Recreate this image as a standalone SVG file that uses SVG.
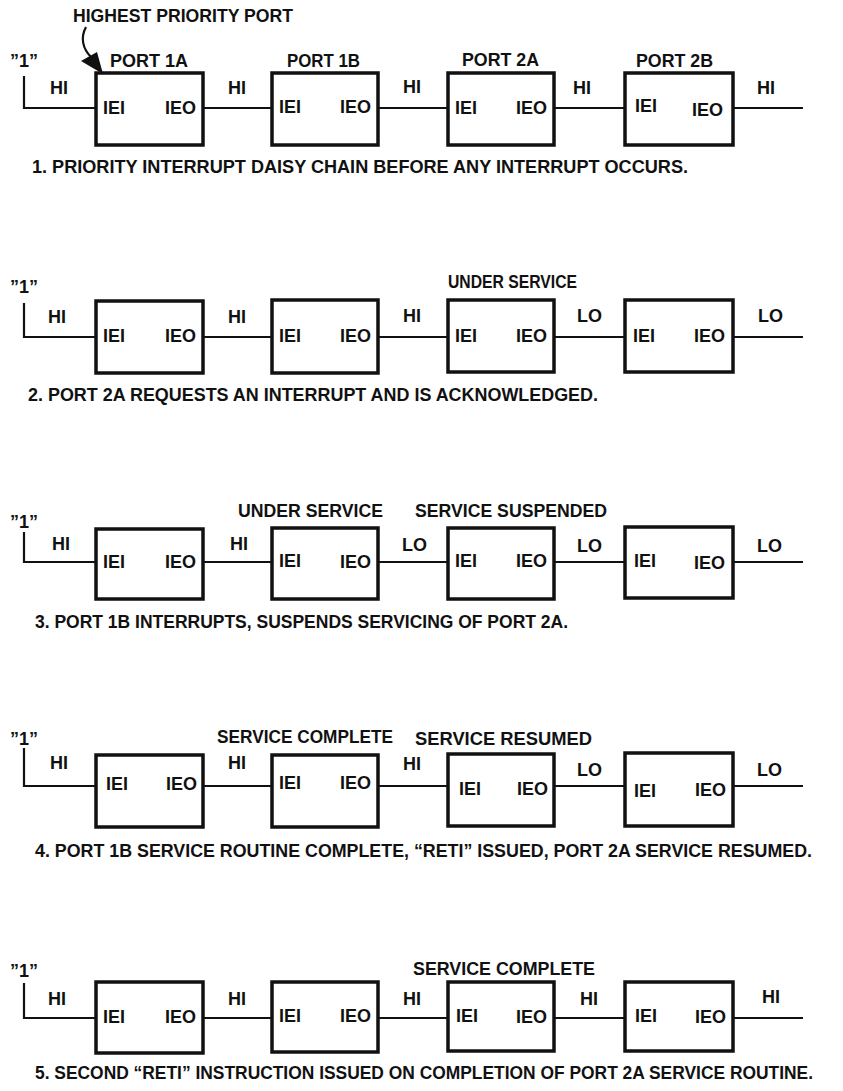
<svg xmlns="http://www.w3.org/2000/svg" width="843" height="1091" viewBox="0 0 843 1091">
<style>
.t{font-family:"Liberation Sans",Arial,sans-serif;font-weight:bold;font-size:18px;fill:#111}
.c{font-family:"Liberation Sans",Arial,sans-serif;font-weight:bold;font-size:18px;fill:#111}
.e{text-anchor:end}
.box{fill:#fff;stroke:#111;stroke-width:3.5}
.ln{fill:none;stroke:#111;stroke-width:2.2}
</style>
<rect width="843" height="1091" fill="#fff"/>
<g id="connectors">
<path class="ln" d="M24,76 V108 H96 M203,108 H272 M378,108 H448 M554,108 H625 M733,108 H803"/>
<path class="ln" d="M24,303 V337 H96 M203,337 H272 M378,337 H448 M554,337 H625 M733,337 H803"/>
<path class="ln" d="M24,532 V562 H96 M203,562 H272 M378,562 H448 M554,562 H625 M733,562 H803"/>
<path class="ln" d="M24,748 V786 H96 M203,786 H272 M378,786 H448 M554,786 H625 M733,786 H803"/>
<path class="ln" d="M24,983 V1018 H96 M203,1018 H272 M378,1018 H448 M554,1018 H625 M733,1018 H803"/>
<path class="ln" d="M86,27 C80,38 83,49 91,57"/>
<polygon points="103,74 81,61 97,52" fill="#111"/>
</g>
<!-- Row 1 -->
<g id="r1-labels">
<text class="t" x="73" y="22" textLength="220" lengthAdjust="spacingAndGlyphs">HIGHEST PRIORITY PORT</text>
<text class="t" x="10" y="67" textLength="28" lengthAdjust="spacingAndGlyphs">”1”</text>
<text class="t" x="110" y="67" textLength="78" lengthAdjust="spacingAndGlyphs">PORT 1A</text>
<text class="t" x="287" y="67" textLength="73" lengthAdjust="spacingAndGlyphs">PORT 1B</text>
<text class="t" x="462" y="66" textLength="77" lengthAdjust="spacingAndGlyphs">PORT 2A</text>
<text class="t" x="636" y="67" textLength="77" lengthAdjust="spacingAndGlyphs">PORT 2B</text>
<text class="t" x="50" y="94">HI</text>
<text class="t" x="228" y="94">HI</text>
<text class="t" x="403" y="93">HI</text>
<text class="t" x="573" y="94">HI</text>
<text class="t" x="757" y="94">HI</text>
<text class="c" x="32" y="173" textLength="656" lengthAdjust="spacingAndGlyphs">1. PRIORITY INTERRUPT DAISY CHAIN BEFORE ANY INTERRUPT OCCURS.</text>
</g>
<g id="r1-port1a"><rect class="box" x="96" y="73" width="107" height="72"/><text class="t" x="103" y="114">IEI</text><text class="t e" x="196" y="114">IEO</text></g>
<g id="r1-port1b"><rect class="box" x="272" y="73" width="106" height="72"/><text class="t" x="279" y="113">IEI</text><text class="t e" x="371" y="113">IEO</text></g>
<g id="r1-port2a"><rect class="box" x="448" y="73" width="106" height="72"/><text class="t" x="455" y="114">IEI</text><text class="t e" x="547" y="114">IEO</text></g>
<g id="r1-port2b"><rect class="box" x="625" y="73" width="108" height="72"/><text class="t" x="635" y="112">IEI</text><text class="t e" x="723" y="116">IEO</text></g>
<!-- Row 2 -->
<g id="r2-labels">
<text class="t" x="10" y="293" textLength="28" lengthAdjust="spacingAndGlyphs">”1”</text>
<text class="t" x="448" y="288" textLength="129" lengthAdjust="spacingAndGlyphs">UNDER SERVICE</text>
<text class="t" x="48" y="323">HI</text>
<text class="t" x="228" y="323">HI</text>
<text class="t" x="403" y="322">HI</text>
<text class="t" x="577" y="322">LO</text>
<text class="t" x="758" y="322">LO</text>
<text class="c" x="28" y="401" textLength="570" lengthAdjust="spacingAndGlyphs">2. PORT 2A REQUESTS AN INTERRUPT AND IS ACKNOWLEDGED.</text>
</g>
<g id="r2-port1a"><rect class="box" x="96" y="301" width="107" height="72"/><text class="t" x="103" y="342">IEI</text><text class="t e" x="196" y="342">IEO</text></g>
<g id="r2-port1b"><rect class="box" x="272" y="300" width="106" height="73"/><text class="t" x="279" y="342">IEI</text><text class="t e" x="371" y="342">IEO</text></g>
<g id="r2-port2a"><rect class="box" x="448" y="300" width="106" height="72"/><text class="t" x="455" y="342">IEI</text><text class="t e" x="547" y="342">IEO</text></g>
<g id="r2-port2b"><rect class="box" x="625" y="300" width="108" height="72"/><text class="t" x="633" y="342">IEI</text><text class="t e" x="725" y="342">IEO</text></g>
<!-- Row 3 -->
<g id="r3-labels">
<text class="t" x="10" y="528" textLength="28" lengthAdjust="spacingAndGlyphs">”1”</text>
<text class="t" x="238" y="517" textLength="145" lengthAdjust="spacingAndGlyphs">UNDER SERVICE</text>
<text class="t" x="415" y="517" textLength="192" lengthAdjust="spacingAndGlyphs">SERVICE SUSPENDED</text>
<text class="t" x="52" y="550">HI</text>
<text class="t" x="230" y="550">HI</text>
<text class="t" x="402" y="551">LO</text>
<text class="t" x="577" y="552">LO</text>
<text class="t" x="757" y="552">LO</text>
<text class="c" x="35" y="628" textLength="533" lengthAdjust="spacingAndGlyphs">3. PORT 1B INTERRUPTS, SUSPENDS SERVICING OF PORT 2A.</text>
</g>
<g id="r3-port1a"><rect class="box" x="96" y="529" width="107" height="70"/><text class="t" x="103" y="568">IEI</text><text class="t e" x="196" y="568">IEO</text></g>
<g id="r3-port1b"><rect class="box" x="272" y="528" width="106" height="71"/><text class="t" x="279" y="567">IEI</text><text class="t e" x="371" y="568">IEO</text></g>
<g id="r3-port2a"><rect class="box" x="448" y="528" width="106" height="71"/><text class="t" x="455" y="567">IEI</text><text class="t e" x="547" y="567">IEO</text></g>
<g id="r3-port2b"><rect class="box" x="625" y="527" width="108" height="71"/><text class="t" x="634" y="567">IEI</text><text class="t e" x="725" y="569">IEO</text></g>
<!-- Row 4 -->
<g id="r4-labels">
<text class="t" x="10" y="745" textLength="28" lengthAdjust="spacingAndGlyphs">”1”</text>
<text class="t" x="217" y="743" textLength="176" lengthAdjust="spacingAndGlyphs">SERVICE COMPLETE</text>
<text class="t" x="415" y="745" textLength="177" lengthAdjust="spacingAndGlyphs">SERVICE RESUMED</text>
<text class="t" x="50" y="769">HI</text>
<text class="t" x="228" y="769">HI</text>
<text class="t" x="403" y="770">HI</text>
<text class="t" x="577" y="776">LO</text>
<text class="t" x="757" y="776">LO</text>
<text class="c" x="35" y="857" textLength="777" lengthAdjust="spacingAndGlyphs">4. PORT 1B SERVICE ROUTINE COMPLETE, “RETI” ISSUED, PORT 2A SERVICE RESUMED.</text>
</g>
<g id="r4-port1a"><rect class="box" x="96" y="755" width="107" height="72"/><text class="t" x="106" y="790">IEI</text><text class="t e" x="197" y="790">IEO</text></g>
<g id="r4-port1b"><rect class="box" x="272" y="755" width="106" height="72"/><text class="t" x="279" y="789">IEI</text><text class="t e" x="371" y="789">IEO</text></g>
<g id="r4-port2a"><rect class="box" x="448" y="754" width="106" height="72"/><text class="t" x="459" y="795">IEI</text><text class="t e" x="548" y="795">IEO</text></g>
<g id="r4-port2b"><rect class="box" x="625" y="753" width="108" height="73"/><text class="t" x="634" y="797">IEI</text><text class="t e" x="726" y="796">IEO</text></g>
<!-- Row 5 -->
<g id="r5-labels">
<text class="t" x="10" y="977" textLength="28" lengthAdjust="spacingAndGlyphs">”1”</text>
<text class="t" x="413" y="975" textLength="182" lengthAdjust="spacingAndGlyphs">SERVICE COMPLETE</text>
<text class="t" x="48" y="1005">HI</text>
<text class="t" x="228" y="1005">HI</text>
<text class="t" x="403" y="1005">HI</text>
<text class="t" x="580" y="1005">HI</text>
<text class="t" x="762" y="1003">HI</text>
<text class="c" x="35" y="1079" textLength="778" lengthAdjust="spacingAndGlyphs">5. SECOND “RETI” INSTRUCTION ISSUED ON COMPLETION OF PORT 2A SERVICE ROUTINE.</text>
</g>
<g id="r5-port1a"><rect class="box" x="96" y="982" width="107" height="71"/><text class="t" x="103" y="1023">IEI</text><text class="t e" x="196" y="1023">IEO</text></g>
<g id="r5-port1b"><rect class="box" x="272" y="982" width="106" height="70"/><text class="t" x="279" y="1022">IEI</text><text class="t e" x="371" y="1022">IEO</text></g>
<g id="r5-port2a"><rect class="box" x="448" y="982" width="106" height="69"/><text class="t" x="456" y="1022">IEI</text><text class="t e" x="547" y="1023">IEO</text></g>
<g id="r5-port2b"><rect class="box" x="625" y="982" width="108" height="69"/><text class="t" x="635" y="1022">IEI</text><text class="t e" x="726" y="1023">IEO</text></g>
</svg>
